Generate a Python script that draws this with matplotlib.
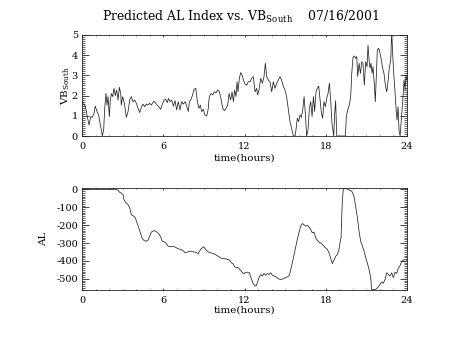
import matplotlib
matplotlib.use("Agg")
import matplotlib.pyplot as plt
from matplotlib.ticker import MultipleLocator

plt.rcParams["font.family"] = ["DejaVu Serif"]
plt.rcParams["mathtext.fontset"] = "custom"
plt.rcParams["mathtext.rm"] = "DejaVu Serif"
plt.rcParams["axes.unicode_minus"] = False

# Southward IMF component (VB_South) vs time of day
vb_time = [
    0.00, 0.15, 0.25, 0.39, 0.52, 0.64, 0.76, 0.89, 0.98, 1.11, 1.23, 1.33, 1.43, 1.50,
    1.60, 1.67, 1.77, 1.85, 1.92, 2.02, 2.09, 2.17, 2.27, 2.36, 2.46, 2.56, 2.66, 2.76,
    2.86, 2.90, 3.00, 3.10, 3.20, 3.27, 3.40, 3.52, 3.64, 3.77, 3.89, 4.01, 4.14, 4.26,
    4.38, 4.50, 4.63, 4.75, 4.87, 5.00, 5.12, 5.32, 5.49, 5.66, 5.81, 5.91, 6.06, 6.18,
    6.30, 6.38, 6.50, 6.62, 6.75, 6.87, 6.99, 7.11, 7.24, 7.36, 7.48, 7.61, 7.73, 7.85,
    7.93, 8.03, 8.15, 8.27, 8.40, 8.52, 8.64, 8.74, 8.84, 8.96, 9.08, 9.21, 9.31, 9.40,
    9.53, 9.65, 9.77, 9.90, 10.02, 10.14, 10.26, 10.39, 10.51, 10.64, 10.76, 10.86,
    10.98, 11.08, 11.18, 11.27, 11.37, 11.45, 11.52, 11.62, 11.72, 11.82, 11.92, 12.04,
    12.16, 12.28, 12.41, 12.53, 12.65, 12.78, 12.90, 12.97, 13.07, 13.20, 13.32, 13.44,
    13.54, 13.64, 13.76, 13.88, 14.01, 14.13, 14.25, 14.38, 14.50, 14.62, 14.74, 14.87,
    14.99, 15.11, 15.24, 15.36, 15.48, 15.61, 15.73, 15.80, 15.90, 16.00, 16.10, 16.20,
    16.30, 16.40, 16.49, 16.59, 16.69, 16.79, 16.89, 16.99, 17.09, 17.18, 17.28, 17.38,
    17.48, 17.58, 17.68, 17.77, 17.87, 17.97, 18.07, 18.17, 18.27, 18.37, 18.46, 18.59,
    18.66, 18.73, 18.81, 19.45, 19.52, 19.62, 19.74, 19.84, 19.92, 20.01, 20.11, 20.21,
    20.29, 20.36, 20.46, 20.56, 20.66, 20.75, 20.85, 20.95, 21.05, 21.12, 21.20, 21.27,
    21.34, 21.42, 21.49, 21.59, 21.66, 21.74, 21.81, 21.91, 22.01, 22.11, 22.20, 22.30,
    22.40, 22.50, 22.60, 22.70, 22.80, 22.87, 22.94, 23.02, 23.09, 23.19, 23.26, 23.34,
    23.41, 23.49, 23.56, 23.64, 23.71, 23.78, 23.86, 23.93, 23.98,
]
vb_south = [
    1.70, 1.53, 1.48, 0.96, 0.54, 0.96, 0.92, 1.12, 1.48, 1.21, 1.04, 0.63, 0.30, 0.00,
    0.30, 1.29, 2.11, 1.53, 1.95, 0.96, 1.78, 2.10, 1.95, 2.36, 2.00, 2.28, 1.78, 2.41,
    2.10, 1.53, 1.95, 1.70, 1.29, 0.92, 1.21, 1.78, 1.95, 1.70, 1.78, 1.62, 1.37, 1.16,
    1.42, 1.58, 1.45, 1.58, 1.53, 1.62, 1.53, 1.73, 1.58, 1.45, 1.32, 1.53, 1.78, 1.81,
    1.65, 1.86, 1.70, 1.78, 1.48, 1.75, 1.29, 1.70, 1.29, 1.70, 1.58, 1.70, 1.48, 1.21,
    1.70, 1.78, 2.00, 2.31, 2.36, 1.70, 1.37, 1.53, 1.21, 1.32, 1.04, 0.99, 1.29, 1.95,
    2.11, 2.03, 2.19, 2.14, 2.28, 2.19, 1.86, 1.37, 1.26, 1.37, 1.53, 2.11,
    1.78, 2.19, 1.70, 2.28, 1.95, 2.69, 2.19, 2.86, 3.14, 3.02, 2.77, 2.57,
    2.52, 2.69, 2.69, 2.86, 2.94, 2.19, 2.36, 2.03, 2.28, 2.86, 2.61, 2.94,
    3.60, 2.94, 2.77, 2.69, 2.19, 2.69, 2.36, 2.61, 2.77, 2.94, 2.77, 2.44,
    2.28, 1.95, 1.29, 0.71, 0.38, 0.00, 0.00, 0.30, 0.88, 0.71, 1.04, 0.92,
    1.29, 1.95, 1.12, 0.00, 0.30, 1.37, 1.70, 0.96, 1.95, 1.21, 2.19, 2.36,
    2.47, 1.78, 1.12, 0.88, 1.70, 1.45, 1.86, 2.11, 2.61, 1.70, 0.63, 0.00,
    1.12, 1.75, 0.00, 0.00, 0.96, 1.29, 1.53, 1.95, 3.10, 3.89, 3.96, 3.84,
    3.93, 2.94, 3.60, 3.10, 3.68, 3.60, 2.52, 3.68, 3.43, 4.50, 3.76, 3.35,
    3.60, 3.10, 3.43, 2.52, 1.70, 3.10, 4.26, 4.34, 4.09, 3.76, 3.35, 3.10,
    2.52, 2.19, 2.69, 3.43, 3.76, 5.20, 4.09, 3.10, 2.44, 1.37, 0.79, 1.45,
    0.30, 0.00, 0.63, 1.29, 1.95, 2.77, 2.28, 3.02, 2.77,
]

# Predicted AL index vs time of day
al_time = [
    0.00, 2.54, 2.66, 2.78, 2.90, 3.03, 3.10, 3.22, 3.40, 3.52, 3.64, 3.82, 3.94, 4.06,
    4.19, 4.31, 4.43, 4.55, 4.70, 4.87, 5.00, 5.12, 5.32, 5.49, 5.66, 5.81, 5.93, 6.11,
    6.23, 6.35, 6.55, 6.72, 6.89, 7.09, 7.29, 7.46, 7.63, 7.83, 8.00, 8.20, 8.37, 8.57,
    8.69, 8.81, 8.99, 9.13, 9.31, 9.50, 9.68, 9.85, 10.04, 10.24, 10.41, 10.59, 10.73,
    10.91, 11.03, 11.15, 11.28, 11.40, 11.52, 11.69, 11.82, 11.94, 12.04, 12.21, 12.36,
    12.48, 12.61, 12.73, 12.85, 12.95, 13.07, 13.20, 13.32, 13.44, 13.57, 13.69, 13.81,
    13.93, 14.06, 14.20, 14.33, 14.50, 14.67, 14.87, 15.04, 15.19, 15.31, 15.41, 15.53,
    15.66, 15.78, 15.90, 16.03, 16.15, 16.27, 16.39, 16.52, 16.64, 16.76, 16.89, 17.01,
    17.13, 17.26, 17.38, 17.50, 17.63, 17.75, 17.87, 17.99, 18.12, 18.24, 18.36, 18.49,
    18.61, 18.74, 18.86, 18.98, 19.05, 19.13, 19.18, 19.23, 19.30, 19.42, 19.55, 19.67,
    19.79, 19.92, 20.04, 20.11, 20.21, 20.34, 20.46, 20.58, 20.71, 20.83, 20.95, 21.07,
    21.20, 21.32, 21.39, 21.64, 21.76, 21.88, 22.01, 22.13, 22.25, 22.38, 22.50, 22.62,
    22.75, 22.87, 22.99, 23.12, 23.24, 23.37, 23.49, 23.61, 23.73, 23.86, 23.98,
]
al_index = [
    0, 0, -5, -16, -20, -29, -57, -72, -85, -103, -141, -150, -159, -187,
    -215, -243, -271, -284, -290, -284, -262, -239, -230, -237, -247, -265, -290, -295,
    -303, -318, -321, -318, -323, -332, -336, -342, -355, -349, -345, -349, -351, -359,
    -345, -331, -321, -336, -349, -355, -359, -364, -373, -383, -388, -388, -392,
    -396, -411, -415, -433, -439, -437, -451, -463, -472, -466, -463, -466,
    -494, -522, -537, -541, -522, -494, -476, -485, -470, -481, -470, -476,
    -466, -481, -485, -489, -500, -504, -500, -493, -489, -481, -451, -411,
    -364, -318, -280, -239, -206, -191, -197, -206, -201, -209, -225, -243,
    -239, -271, -284, -295, -299, -308, -318, -327, -336, -355, -383, -415,
    -396, -373, -364, -336, -299, -271, -150, -57, 3, 8, 3, -1,
    -5, -10, -29, -47, -94, -159, -234, -290, -318, -345, -383, -411,
    -448, -494, -560, -560, -556, -545, -532, -518, -525, -504, -466, -476,
    -485, -466, -494, -463, -470, -439, -426, -401, -396, -392, -396,
]

hour_ticks = [0, 6, 12, 18, 24]
vb_ticks = [0, 1, 2, 3, 4, 5]
al_ticks = [0, -100, -200, -300, -400, -500]

W, H = 454, 341
fig = plt.figure(figsize=(W / 100, H / 100), dpi=100)

def px_axes(left, top, right, bottom):
    return fig.add_axes([left / W, 1 - bottom / H, (right - left) / W, (bottom - top) / H])

ax1 = px_axes(82, 35, 407, 136)
ax2 = px_axes(82, 188, 407, 289.5)

line_color = "#222222"

for ax in (ax1, ax2):
    ax.set_xlim(0, 24)
    ax.set_xticks(hour_ticks)
    ax.xaxis.set_minor_locator(MultipleLocator(1))
    for s in ax.spines.values():
        s.set_linewidth(0.6)
        s.set_color(line_color)
    ax.tick_params(axis="x", which="major", direction="in", length=1.6, width=0.6,
                   top=True, labelsize=7, pad=4.5, color=line_color)
    ax.tick_params(axis="x", which="minor", direction="in", length=0.9, width=0.5,
                   top=True, color=line_color)
    ax.tick_params(axis="y", which="major", direction="in", length=4.7, width=0.6,
                   right=True, labelsize=7, pad=3, color=line_color)
    ax.tick_params(axis="y", which="minor", direction="in", length=2.3, width=0.5,
                   right=True, color=line_color)
    ax.set_xlabel("time(hours)", fontsize=7.5)

ax1.plot(vb_time, vb_south, color=line_color, lw=0.55)
ax1.set_ylim(0, 5)
ax1.set_yticks(vb_ticks)
ax1.yaxis.set_minor_locator(MultipleLocator(0.1))
ax1.set_ylabel("VB$_{\\mathrm{South}}$", fontsize=7.5)
ax1.yaxis.set_label_coords(-0.031, 0.5)
ax1.xaxis.set_label_coords(0.5, -0.175)

ax2.plot(al_time, al_index, color=line_color, lw=0.55)
ax2.set_ylim(min(al_index), max(al_index))
ax2.set_yticks(al_ticks)
ax2.yaxis.set_minor_locator(MultipleLocator(10))
ax2.set_ylabel("AL", fontsize=7.5)
ax2.yaxis.set_label_coords(-0.105, 0.5)
ax2.xaxis.set_label_coords(0.5, -0.155)

fig.text(241 / W, 1 - 21 / H,
         "Predicted AL Index vs. VB$_{\\mathrm{South}}$    07/16/2001",
         ha="center", va="baseline", fontsize=8.9)

fig.savefig("out.png", dpi=100)
